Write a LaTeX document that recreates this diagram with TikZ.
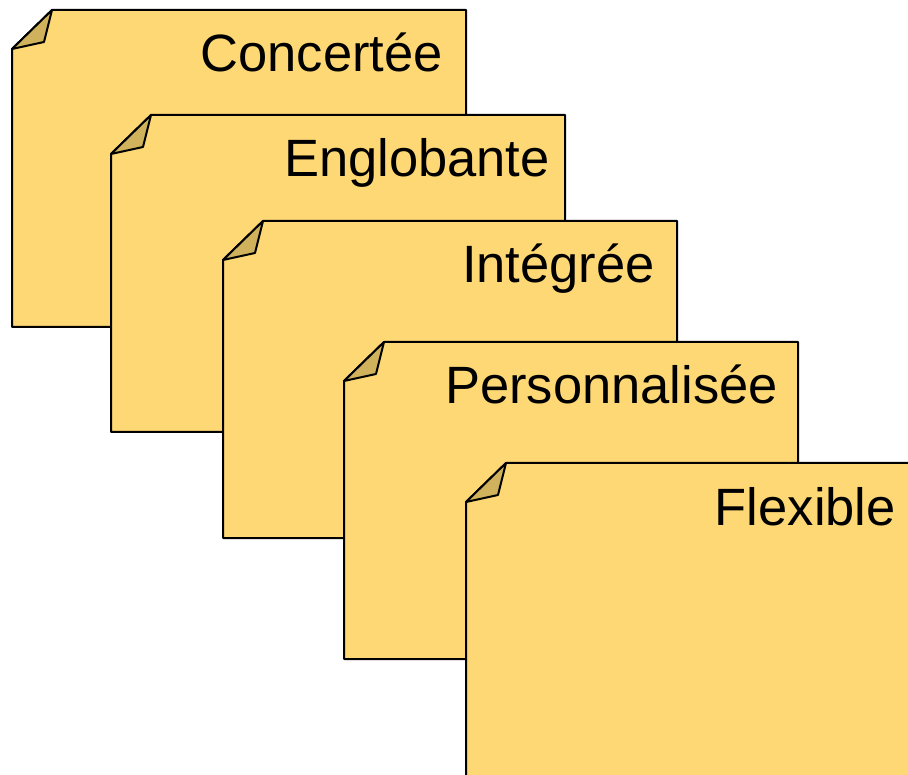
\documentclass[tikz,border=0pt]{standalone}
\usepackage{fontspec}
\setmainfont{Liberation Sans}
\definecolor{notefill}{RGB}{253,216,116}
\definecolor{foldfill}{RGB}{208,178,92}

\begin{document}
\begin{tikzpicture}[x=1pt,y=-1pt,
        note/.style={draw=black,fill=notefill,line width=2pt,line join=round},
        fold/.style={draw=black,fill=foldfill,line width=2pt,line join=round},
        label/.style={anchor=base east,inner sep=0pt,font=\fontsize{52.5}{60}\selectfont},
    ]
        \useasboundingbox (0,0) rectangle (908,775);
        \clip (0,0) rectangle (908,775);

        % cards: left, top, text right end, name, text
        \foreach \x/\y/\tx/\nm/\txt in {
                12/10/443/concertee/Concertée,
                111/115/550/englobante/Englobante,
                223/221/655/integree/Intégrée,
                344/342/778/perso/Personnalisée,
                466/463/896/flexible/Flexible}
        {
            \draw[note] (\x,\y+39) -- (\x+40,\y) -- (\x+454,\y)
                -- (\x+454,\y+317) -- (\x,\y+317) -- cycle;
            \draw[fold] (\x,\y+39) -- (\x+32,\y+32) -- (\x+40,\y) -- cycle;
            \node[label] (\nm) at (\tx,\y+62) {\txt};
        }
    \end{tikzpicture}
\end{document}
